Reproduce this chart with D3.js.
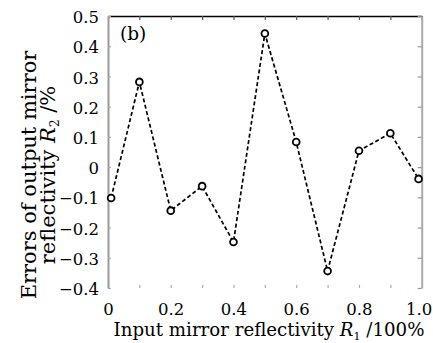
<!DOCTYPE html>
<html>
<head>
<meta charset="utf-8">
<script src="https://cdn.jsdelivr.net/npm/d3@7"></script>
<style>
  body { margin: 0; background: #fff; }
  svg text { font-family: "DejaVu Serif", serif; fill: #000; }
</style>
</head>
<body>
<div id="chart"></div>
<script>
// input reflectivity R1 and error of R2 (%)
const inputR1 = [0.01, 0.1, 0.2, 0.3, 0.4, 0.5, 0.6, 0.7, 0.8, 0.9, 0.99];
const errorR2 = [-0.102, 0.282, -0.144, -0.063, -0.248, 0.442, 0.083, -0.344, 0.054, 0.112, -0.039];
const xTicks = [0, 0.1, 0.2, 0.3, 0.4, 0.5, 0.6, 0.7, 0.8, 0.9, 1.0];
const xTickLabels = ['0', '', '0.2', '', '0.4', '', '0.6', '', '0.8', '', '1.0'];
const yTicks = [-0.4, -0.3, -0.2, -0.1, 0, 0.1, 0.2, 0.3, 0.4, 0.5];

const width = 433;
const height = 343;
const margin = { top: 16, right: 11.3, bottom: 55, left: 108 };
const w = width - margin.left - margin.right;
const h = height - margin.top - margin.bottom;

const svg = d3.select('#chart').append('svg')
  .attr('width', width)
  .attr('height', height);

const g = svg.append('g')
  .attr('transform', `translate(${margin.left},${margin.top})`);

const xScale = d3.scaleLinear().domain([0, 1]).range([0, w]);
const yScale = d3.scaleLinear().domain([-0.4, 0.5]).range([h, 0]);

const fmtY = d => (d === 0 ? '0' : d3.format('.1f')(d).replace('-', '\u2212'));

// top axis: black line, ticks pointing down, no labels
const topAxis = g.append('g')
  .call(d3.axisTop(xScale).tickValues(xTicks).tickSizeInner(-4).tickSizeOuter(0).tickFormat(''));
topAxis.select('.domain').attr('stroke', '#000').attr('stroke-width', 1.6);
topAxis.selectAll('.tick line').attr('stroke', '#555').attr('stroke-width', 1.2);

// bottom axis: no line, tiny grey ticks pointing up, labels below
const bottomAxis = g.append('g')
  .attr('transform', `translate(0,${h})`)
  .call(d3.axisBottom(xScale).tickValues(xTicks).tickSizeInner(-3).tickSizeOuter(0)
    .tickPadding(15).tickFormat((d, i) => xTickLabels[i]));
bottomAxis.select('.domain').remove();
bottomAxis.selectAll('.tick line').attr('stroke', '#aaa').attr('stroke-width', 1.2);
bottomAxis.selectAll('.tick text').attr('font-size', 16.5).attr('dy', '0.71em');
bottomAxis.selectAll('.tick text').filter(d => d === 1).attr('dx', -3);

// left axis: grey line, ticks pointing in
const leftAxis = g.append('g')
  .call(d3.axisLeft(yScale).tickValues(yTicks).tickSizeInner(-3).tickSizeOuter(0)
    .tickPadding(9).tickFormat(fmtY));
leftAxis.select('.domain').attr('stroke', '#999').attr('stroke-width', 2);
leftAxis.selectAll('.tick line').attr('stroke', '#aaa').attr('stroke-width', 1.2);
leftAxis.selectAll('.tick text').attr('font-size', 16.5).attr('dy', '0.4em');

// right axis: grey line, ticks pointing in
const rightAxis = g.append('g')
  .attr('transform', `translate(${w},0)`)
  .call(d3.axisRight(yScale).tickValues(yTicks).tickSizeInner(-4).tickSizeOuter(0).tickFormat(''));
rightAxis.select('.domain').attr('stroke', '#aaa').attr('stroke-width', 2);
rightAxis.selectAll('.tick line').attr('stroke', '#999').attr('stroke-width', 1.2);

const points = inputR1.map((x, i) => ({ x, y: errorR2[i] }));

const line = d3.line()
  .x(d => xScale(d.x))
  .y(d => yScale(d.y));

g.append('path')
  .datum(points)
  .attr('d', line)
  .attr('fill', 'none')
  .attr('stroke', '#000')
  .attr('stroke-width', 1.7)
  .attr('stroke-dasharray', '4,2.5');

g.selectAll('.pt')
  .data(points)
  .enter().append('circle')
  .classed('pt', true)
  .attr('cx', d => xScale(d.x))
  .attr('cy', d => yScale(d.y))
  .attr('r', 3.4)
  .attr('fill', '#fff')
  .attr('stroke', '#000')
  .attr('stroke-width', 1.8);

// panel tag
g.append('text')
  .attr('x', 12)
  .attr('y', 24)
  .attr('font-size', 18.5)
  .text('(b)');

// x label
const xl = svg.append('text')
  .attr('x', 269)
  .attr('y', 336)
  .attr('text-anchor', 'middle')
  .attr('font-size', 18.2);
xl.append('tspan').text('Input mirror reflectivity ');
xl.append('tspan').attr('font-style', 'italic').text('R');
xl.append('tspan').attr('font-size', 11).attr('dy', 4).text('1');
xl.append('tspan').attr('dy', -4).text(' /100%');

// y label (two lines)
const yl = svg.append('text')
  .attr('transform', 'translate(0,175) rotate(-90)')
  .attr('text-anchor', 'middle')
  .attr('font-size', 21);
yl.append('tspan').attr('x', 0).attr('y', 36).text('Errors of output mirror');
const yl2 = svg.append('text')
  .attr('transform', 'translate(0,175) rotate(-90)')
  .attr('text-anchor', 'middle')
  .attr('font-size', 21);
yl2.append('tspan').attr('x', 0).attr('y', 55).text('reflectivity ');
yl2.append('tspan').attr('font-style', 'italic').text('R');
yl2.append('tspan').attr('font-size', 12).attr('dy', 4).text('2');
yl2.append('tspan').attr('dy', -4).text(' /%');
</script>
</body>
</html>
